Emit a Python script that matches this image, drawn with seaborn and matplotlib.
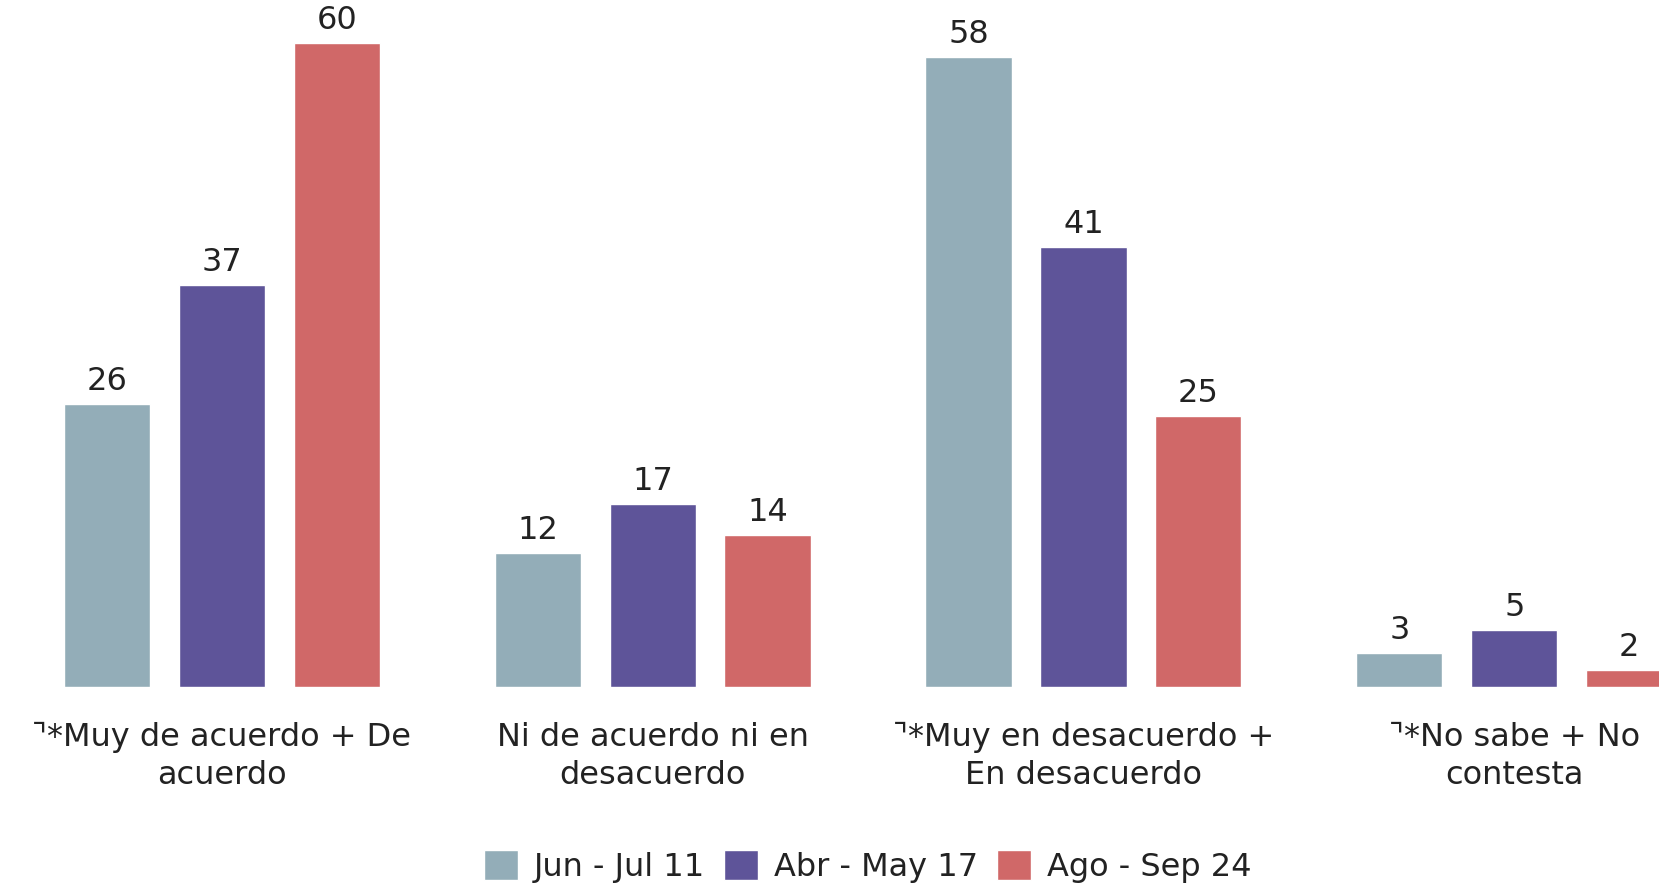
import pandas as pd
import numpy as np
import matplotlib.pyplot as plt
import seaborn as sns

categories = ['\u231d*Muy de acuerdo + De\nacuerdo', 'Ni de acuerdo ni en\ndesacuerdo',
              '\u231d*Muy en desacuerdo +\nEn desacuerdo', '\u231d*No sabe + No\ncontesta']
series = ['Jun - Jul 11', 'Abr - May 17', 'Ago - Sep 24']
# bar heights as drawn, and the rounded labels printed on them
jun_jul = [26.4, 12.5, 58.7, 3.2]
abr_may = [37.45, 17.05, 41.0, 5.3]
ago_sep = [60.0, 14.15, 25.25, 1.6]
jun_jul_lbl = ['26', '12', '58', '3']
abr_may_lbl = ['37', '17', '41', '5']
ago_sep_lbl = ['60', '14', '25', '2']
colors = ['#93adb8', '#5e5499', '#d06868']

df = pd.DataFrame({
    'cat': categories * 3,
    'periodo': [series[0]] * 4 + [series[1]] * 4 + [series[2]] * 4,
    'val': jun_jul + abr_may + ago_sep,
})

sns.set_style('white')
plt.rcParams['font.family'] = ['DejaVu Sans']

fig = plt.figure(figsize=(16.59, 8.88), dpi=100)
ax = fig.add_axes([0, 0.2262, 1, 0.7738])

sns.barplot(data=df, x='cat', y='val', hue='periodo', palette=colors, width=0.8, gap=0.25,
            saturation=1, ax=ax, legend=True)

for c, lbl in zip(ax.containers, [jun_jul_lbl, abr_may_lbl, ago_sep_lbl]):
    ax.bar_label(c, labels=lbl, padding=5, fontsize=23, color='#222222')

ax.set_xlim(-0.515, 3.336)
ax.set_ylim(0, 64)
ax.set_xlabel('')
ax.set_ylabel('')
ax.set_yticks([])
ax.tick_params(axis='x', length=0, pad=25, labelsize=23, labelcolor='#222222')
for t in ax.get_xticklabels():
    t.set_linespacing(1.3)
sns.despine(ax=ax, left=True, bottom=True)

h, l = ax.get_legend_handles_labels()
ax.legend_.remove()
fig.legend(h, l, loc='center', bbox_to_anchor=(0.523, 0.024), ncol=3, frameon=False,
           fontsize=23, handlelength=1.05, handleheight=1.05, handletextpad=0.5, columnspacing=0.6,
           labelcolor='#222222')

plt.savefig('out.png', dpi=100)
